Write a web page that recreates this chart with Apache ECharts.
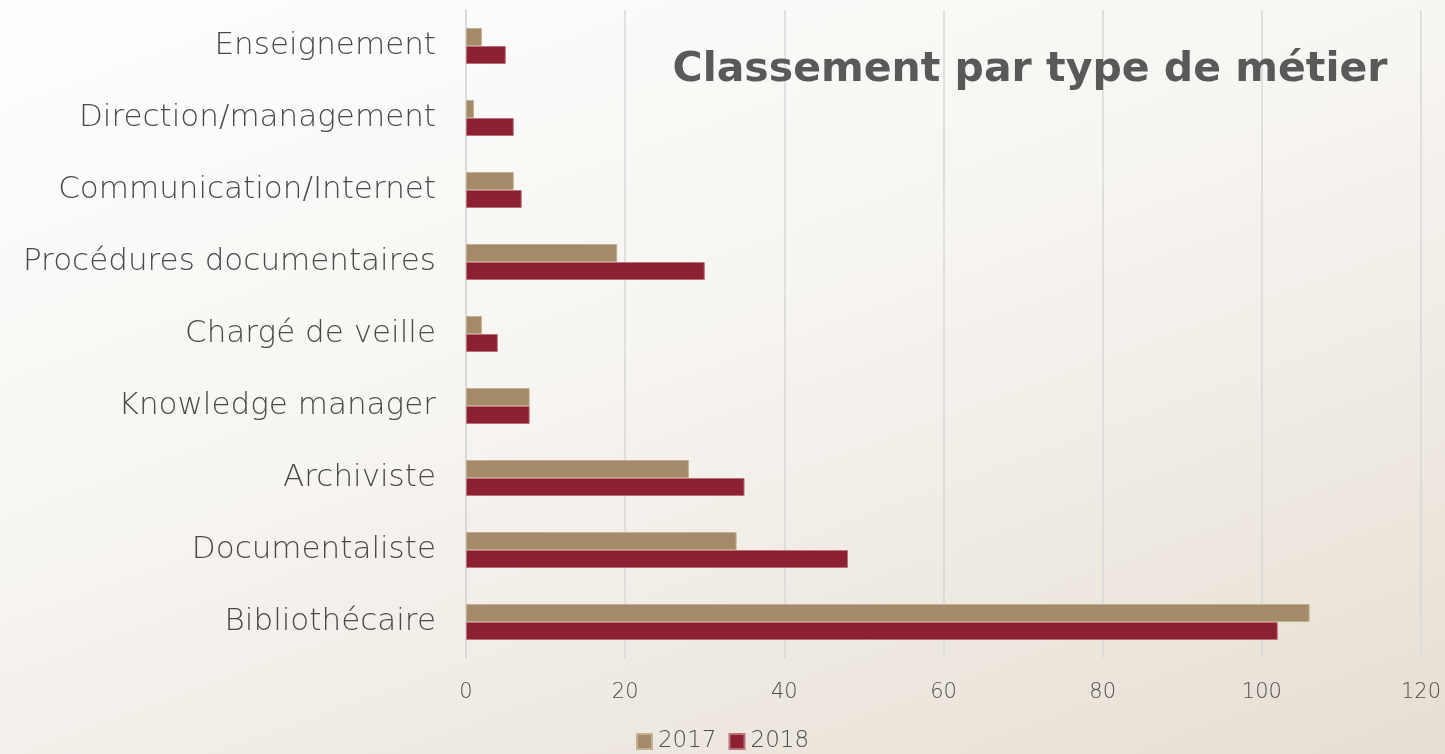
<!DOCTYPE html>
<html>
<head>
<meta charset="utf-8">
<script src="https://cdn.jsdelivr.net/npm/echarts@6/dist/echarts.min.js"></script>
<style>
  html, body { margin: 0; padding: 0; }
  body {
    width: 1445px; height: 754px;
    background: linear-gradient(160deg, #fefefd 0%, #f7f5f2 45%, #e6ded2 100%);
  }
  #chart { width: 1445px; height: 754px; }
</style>
</head>
<body>
<div id="chart"></div>
<script>
// categories, bottom to top
var categories = ['Bibliothécaire', 'Documentaliste', 'Archiviste', 'Knowledge manager',
  'Chargé de veille', 'Procédures documentaires', 'Communication/Internet',
  'Direction/management', 'Enseignement'];
var values2017 = [106, 34, 28, 8, 2, 19, 6, 1, 2];
var values2018 = [102, 48, 35, 8, 4, 30, 7, 6, 5];
var xTicks = [0, 20, 40, 60, 80, 100, 120];

var chart = echarts.init(document.getElementById('chart'));

var labelFont = 'DejaVu Sans';

var option = {
  backgroundColor: 'transparent',
  title: {
    text: 'Classement par type de métier',
    left: 1025,
    textAlign: 'center',
    top: 45,
    textStyle: {
      color: '#595959',
      fontSize: 41,
      fontWeight: 'bold',
      fontFamily: 'DejaVu Sans'
    }
  },
  legend: {
    bottom: -4,
    left: 'center',
    itemWidth: 15,
    itemHeight: 15,
    itemGap: 12,
    icon: 'rect',
    textStyle: { color: '#4f4f4f', fontSize: 23, fontFamily: labelFont, fontWeight: 300, padding: [0, 0, 0, 1] },
    data: ['2017', '2018']
  },
  grid: { left: 466, right: 24, top: 10, bottom: 96, containLabel: false },
  xAxis: {
    type: 'value',
    min: xTicks[0],
    max: xTicks[xTicks.length - 1],
    interval: 20,
    axisLine: { show: false },
    axisTick: { show: false },
    splitLine: { lineStyle: { color: '#d9d9d9', width: 1.5 } },
    axisLabel: { color: '#4f4f4f', fontSize: 21, fontFamily: labelFont, fontWeight: 300, margin: 24 }
  },
  yAxis: {
    type: 'category',
    data: categories,
    axisLine: { show: true, lineStyle: { color: '#d9d9d9', width: 2 } },
    axisTick: { show: false },
    axisLabel: { color: '#4a4a4a', fontSize: 31, fontFamily: labelFont, fontWeight: 300, margin: 30 }
  },
  series: [
    {
      name: '2017',
      type: 'bar',
      data: values2017,
      barGap: '0%',
      barCategoryGap: '50%',
      itemStyle: { color: '#a38b69', borderColor: '#c2ae90', borderWidth: 1 }
    },
    {
      name: '2018',
      type: 'bar',
      data: values2018,
      itemStyle: { color: '#8b2030', borderColor: '#b8727c', borderWidth: 1 }
    }
  ]
};

chart.setOption(option);
window.addEventListener('resize', function () { chart.resize(); });
</script>
</body>
</html>
